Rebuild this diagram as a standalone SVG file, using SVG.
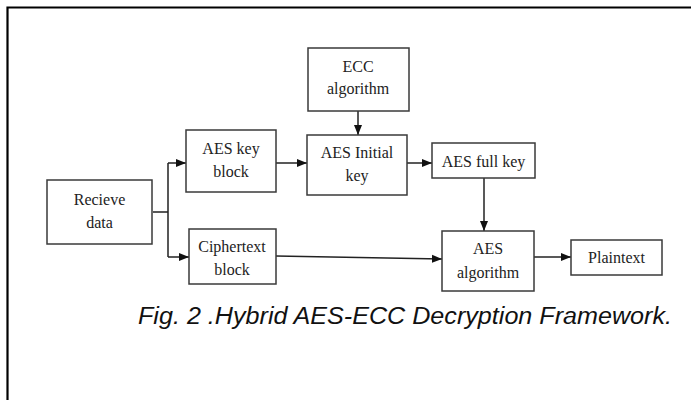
<svg xmlns="http://www.w3.org/2000/svg" width="691" height="400" viewBox="0 0 691 400">
<style>
.box{fill:#fff;stroke:#3a3a3a;stroke-width:1.5}
.lbl{font-family:"Liberation Serif","Times New Roman",serif;font-size:16px;fill:#222;text-anchor:middle}
.conn{stroke:#222;stroke-width:1.5;fill:none}
.cap{font-family:"Liberation Sans",Arial,sans-serif;font-style:italic;font-size:23px;fill:#111}
</style>
<defs>
<marker id="ah" viewBox="0 0 10 10" refX="10" refY="5" markerWidth="10" markerHeight="10" markerUnits="userSpaceOnUse" orient="auto">
<path d="M0,1 L10,5 L0,9 Z" fill="#111"/>
</marker>
</defs>
<rect width="691" height="400" fill="#fff"/>
<path d="M7.5,400 V7.5 H691" stroke="#000" stroke-width="2.2" fill="none"/>
<g id="connectors">
<path class="conn" d="M153,212 H168 M168,163 V257"/>
<path class="conn" d="M168,163 H186" marker-end="url(#ah)"/>
<path class="conn" d="M168,257 H189" marker-end="url(#ah)"/>
<path class="conn" d="M276,163 H307" marker-end="url(#ah)"/>
<path class="conn" d="M358,111 V135" marker-end="url(#ah)"/>
<path class="conn" d="M407,163 H432" marker-end="url(#ah)"/>
<path class="conn" d="M484,178 V231" marker-end="url(#ah)"/>
<path class="conn" d="M276,256 L442,259" marker-end="url(#ah)"/>
<path class="conn" d="M534,257 H571" marker-end="url(#ah)"/>
</g>
<g id="recieve-data">
<rect class="box" x="47" y="180" width="105" height="64"/>
<text class="lbl" x="99.5" y="205">Recieve</text>
<text class="lbl" x="99.5" y="228">data</text>
</g>
<g id="aes-key-block">
<rect class="box" x="186" y="130" width="90" height="62"/>
<text class="lbl" x="231" y="154">AES key</text>
<text class="lbl" x="231" y="177">block</text>
</g>
<g id="ciphertext-block">
<rect class="box" x="189" y="229" width="87" height="55"/>
<text class="lbl" x="232" y="252">Ciphertext</text>
<text class="lbl" x="232" y="275">block</text>
</g>
<g id="ecc-algorithm">
<rect class="box" x="308" y="48" width="101" height="63"/>
<text class="lbl" x="358" y="72">ECC</text>
<text class="lbl" x="358" y="94">algorithm</text>
</g>
<g id="aes-initial-key">
<rect class="box" x="307" y="135" width="100" height="60"/>
<text class="lbl" x="357" y="158">AES Initial</text>
<text class="lbl" x="357" y="181">key</text>
</g>
<g id="aes-full-key">
<rect class="box" x="432" y="143" width="103" height="35"/>
<text class="lbl" x="483.5" y="167">AES full key</text>
</g>
<g id="aes-algorithm">
<rect class="box" x="442" y="231" width="92" height="60"/>
<text class="lbl" x="488" y="254">AES</text>
<text class="lbl" x="488" y="278">algorithm</text>
</g>
<g id="plaintext">
<rect class="box" x="571" y="240" width="91" height="35"/>
<text class="lbl" x="616.5" y="263">Plaintext</text>
</g>
<text class="cap" x="138" y="324" textLength="534" lengthAdjust="spacingAndGlyphs">Fig. 2 .Hybrid AES-ECC Decryption Framework.</text>
</svg>
